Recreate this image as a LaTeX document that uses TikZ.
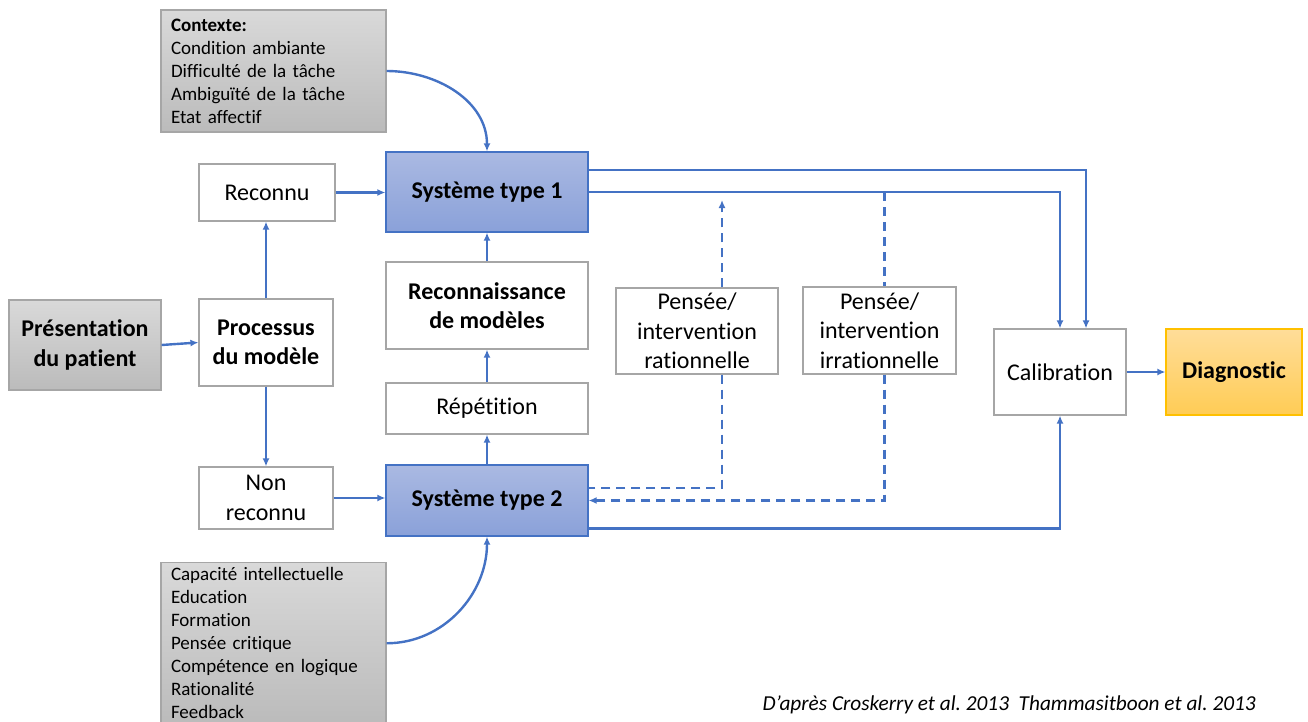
\documentclass[tikz,border=0pt]{standalone}
\usepackage{fontspec}
\setmainfont{Carlito}[Ligatures=NoCommon]
\usetikzlibrary{arrows.meta}
\definecolor{flowblue}{HTML}{4472C4}
\definecolor{boxgrey}{HTML}{A6A6A6}
\definecolor{greytop}{HTML}{D9D9D9}
\definecolor{greybot}{HTML}{BBBBBB}
\definecolor{systop}{HTML}{AAB9E2}
\definecolor{sysbot}{HTML}{8AA1D9}
\definecolor{diagtop}{HTML}{FFDD99}
\definecolor{diagbot}{HTML}{FFCC55}
\definecolor{diagline}{HTML}{FFC000}
\frenchspacing

\begin{document}
\begin{tikzpicture}[x=1pt,y=-1pt,
	box/.style={draw=boxgrey,line width=1.2pt,fill=white,inner sep=2pt,align=center,
		font=\fontsize{24}{29.5}\selectfont},
	sysbox/.style={box,draw=flowblue,top color=systop,bottom color=sysbot,
		font=\fontsize{24}{29.5}\selectfont\bfseries},
	greybox/.style={box,top color=greytop,bottom color=greybot},
	listbox/.style={greybox,align=left,text width=205pt,inner xsep=10pt,
		font=\fontsize{19}{23}\selectfont},
	flow/.style={draw=flowblue,line width=2.4pt,-{Latex[length=8pt,width=7pt]}},
	dline/.style={draw=flowblue,line width=2.4pt,dash pattern=on 9pt off 6pt},
	dflow/.style={flow,dash pattern=on 9pt off 6pt}]
	\useasboundingbox (0,0) rectangle (1308,722);

	% context factors
	\node[listbox,minimum height=122pt] (ctx) at (273.5,71)
		{\textbf{Contexte:}\\Condition ambiante\\Difficulté de la tâche\\Ambiguïté de la tâche\\Etat affectif};
	\node[listbox,anchor=north,inner ysep=5pt] (skill) at (273.5,562)
		{Capacité intellectuelle\\Education\\Formation\\Pensée critique\\Compétence en logique\\Rationalité\\Feedback};

	% main boxes
	\node[greybox,font=\fontsize{24}{29.5}\selectfont\bfseries,minimum width=152pt,minimum height=90pt] (pres) at (85,345) {Présentation\\du patient};
	\node[box,font=\fontsize{24}{29.5}\selectfont\bfseries,minimum width=134pt,minimum height=87pt] (proc) at (266,342.5) {Processus\\du modèle};
	\node[box,minimum width=136pt,minimum height=57pt] (reco) at (267,192.5) {Reconnu};
	\node[box,minimum width=134pt,minimum height=62pt] (non) at (266,498) {Non\\reconnu};
	\node[sysbox,minimum width=202pt,minimum height=80pt] (s1) at (487,192) {Système type 1};
	\node[box,font=\fontsize{24}{29.5}\selectfont\bfseries,minimum width=202pt,minimum height=87pt] (recm) at (487,305.5) {Reconnaissance\\de modèles};
	\node[box,minimum width=202pt,minimum height=51pt] (rep) at (487,408.5) {Répétition};
	\node[sysbox,minimum width=202pt,minimum height=71pt] (s2) at (487,500.5) {Système type 2};
	\node[box,minimum width=162pt,minimum height=86pt] (rat) at (697,331) {Pensée/\\intervention\\rationnelle};
	\node[box,minimum width=153pt,minimum height=87pt] (irr) at (879.5,330.5) {Pensée/\\intervention\\irrationnelle};
	\node[box,minimum width=132pt,minimum height=86pt] (cal) at (1060,372) {Calibration};
	\node[box,draw=diagline,top color=diagtop,bottom color=diagbot,font=\fontsize{24}{29.5}\selectfont\bfseries,
		minimum width=136pt,minimum height=86pt] (diag) at (1234,372) {Diagnostic};
	\node[anchor=west,font=\fontsize{21.3}{25}\selectfont\itshape] (cite) at (759,705)
		{D’après Croskerry et al. 2013\ \ Thammasitboon et al. 2013};
	\coordinate (ratup) at (722,200);

	% connectors
	\draw[flow] (ctx.east) to[out=0,in=90] (s1.north);
	\draw[flow] (skill.east) to[out=0,in=-90] (s2.south);
	\draw[flow] (pres.east) -- (proc.west);
	\draw[flow] (proc.north) -- (proc.north |- reco.south);
	\draw[flow] (proc.south) -- (non.north);
	\draw[flow] (reco.east) -- (reco.east -| s1.west);
	\draw[flow] (non.east) -- (non.east -| s2.west);
	\draw[flow] (s2.north) -- (rep.south);
	\draw[flow] (rep.north) -- (recm.south);
	\draw[flow] (recm.north) -- (s1.south);
	\draw[flow] ([yshift=22pt]s1.east) -| ([xshift=26pt]cal.north);
	\draw[flow] (s1.east) -| (cal.north);
	\draw[flow] ([yshift=-28pt]s2.east) -| (cal.south);
	\draw[flow] (cal.east) -- (diag.west);
	\draw[dflow] ([xshift=25pt]rat.north) -- (ratup);
	\draw[dline] ([xshift=25pt]rat.south) |- ([yshift=12.5pt]s2.east);
	\draw[dline] ([xshift=5pt]irr.north |- s1.east) -- ([xshift=5pt]irr.north);
	\draw[dflow] ([xshift=5pt]irr.south) |- (s2.east);
\end{tikzpicture}
\end{document}
